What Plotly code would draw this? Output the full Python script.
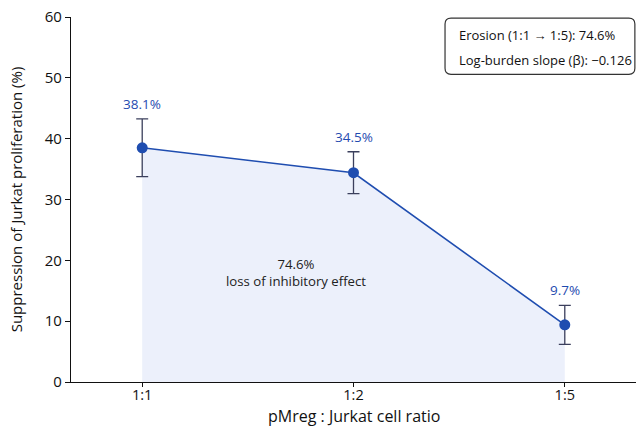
import plotly.graph_objects as go

ratios = ["1:1", "1:2", "1:5"]
suppression = [38.5, 34.4, 9.4]
sem = [4.75, 3.45, 3.2]
point_labels = ["38.1%", "34.5%", "9.7%"]
erosion_pct = 74.6
slope_beta = -0.126
y_ticks = [0, 10, 20, 30, 40, 50, 60]
x_title = "pMreg : Jurkat cell ratio"
y_title = "Suppression of Jurkat proliferation (%)"

FONT = "Open Sans"
BLUE = "#1f4db0"
LABEL_BLUE = "#1f4bb0"

fig = go.Figure()
fig.add_trace(go.Scatter(
    x=ratios, y=suppression, mode="lines+markers",
    line=dict(color=BLUE, width=1.6),
    marker=dict(color=BLUE, size=11),
    fill="tozeroy", fillcolor="rgba(220,228,248,0.55)",
    error_y=dict(type="data", array=sem, visible=True, color="#3b3f5c", thickness=1.3, width=6),
    showlegend=False, hoverinfo="skip",
))

for r, v, e, t in zip(ratios, suppression, sem, point_labels):
    fig.add_annotation(x=r, y=v + e, text=t, showarrow=False, yshift=15,
                       font=dict(family=FONT, size=13.5, color=LABEL_BLUE))

fig.add_annotation(x=0.73, y=18, xref="x", yref="y",
                   text=f"{erosion_pct}%<br>loss of inhibitory effect", showarrow=False,
                   font=dict(family=FONT, size=13.2, color="#222"), align="center")

# rounded box (paper coords)
x0, x1, y0, y1 = 0.662, 0.998, 0.843, 0.997
rx, ry = 0.0106, 0.0165
path = (f"M {x0+rx},{y1} L {x1-rx},{y1} Q {x1},{y1} {x1},{y1-ry} "
        f"L {x1},{y0+ry} Q {x1},{y0} {x1-rx},{y0} L {x0+rx},{y0} "
        f"Q {x0},{y0} {x0},{y0+ry} L {x0},{y1-ry} Q {x0},{y1} {x0+rx},{y1} Z")
fig.add_shape(type="path", path=path, xref="paper", yref="paper",
              line=dict(color="#333", width=1.2), fillcolor="white")
fig.add_annotation(x=0.683, y=0.95, xref="paper", yref="paper", xanchor="left", yanchor="middle",
                   text=f"Erosion (1:1 → 1:5): {erosion_pct}%", showarrow=False,
                   font=dict(family=FONT, size=13, color="#111"))
fig.add_annotation(x=0.683, y=0.882, xref="paper", yref="paper", xanchor="left", yanchor="middle",
                   text=f"Log-burden slope (β): −{abs(slope_beta):.3f}", showarrow=False,
                   font=dict(family=FONT, size=13, color="#111"))

# x-axis title
fig.add_annotation(x=0.5, y=-0.093, xref="paper", yref="paper", xanchor="center", yanchor="middle",
                   text=x_title, showarrow=False, font=dict(family=FONT, size=16, color="#111"))

fig.update_layout(
    width=638, height=430,
    margin=dict(l=71, r=2, t=17, b=48),
    plot_bgcolor="white", paper_bgcolor="white",
    font=dict(family=FONT, color="#111"),
    xaxis=dict(range=[-0.337, 2.337], showline=True, linecolor="#111", linewidth=1.2,
               ticks="outside", ticklen=4, tickcolor="#111", showgrid=False, zeroline=False,
               tickfont=dict(size=14.5), ticklabelstandoff=-5),
    yaxis=dict(range=[0, 60], tickvals=y_ticks, showline=True, linecolor="#111", linewidth=1.2,
               ticks="outside", ticklen=5, tickcolor="#111", showgrid=False, zeroline=False,
               tickfont=dict(size=15),
               title=dict(text=y_title, font=dict(size=15), standoff=18)),
)

fig.write_html("out.html", config={"displayModeBar": False},
               post_script="document.body.style.margin='0';document.body.style.overflow='hidden';")
